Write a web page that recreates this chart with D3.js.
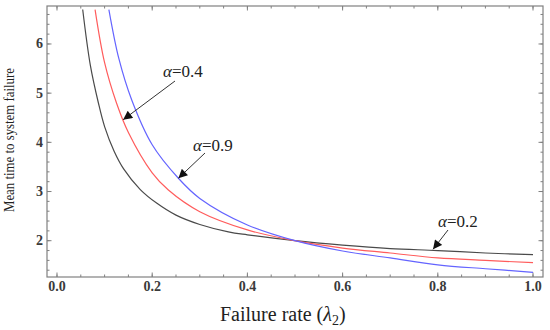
<!DOCTYPE html>
<html lang="en">
  <head>
    <meta charset="utf-8" />
    <script src="https://d3js.org/d3.v7.min.js"></script>
    <style>
      body { margin: 0; background: #fff; }
    </style>
  </head>
  <body>
    <script type="text/javascript">

      // chart size
      var w = 550;
      var h = 330;
      var serif = "'Liberation Serif', 'Times New Roman', 'DejaVu Serif', serif";

      // values (failure rate, mean time)
      var blackX = [0.054, 0.07, 0.087, 0.1, 0.12, 0.14, 0.175, 0.21, 0.25, 0.3, 0.36, 0.4, 0.5, 0.6, 0.7, 0.8, 0.9, 1.0];
      var blackY = [6.70, 5.57, 4.80, 4.32, 3.82, 3.46, 3.04, 2.76, 2.52, 2.33, 2.18, 2.12, 2.00, 1.91, 1.84, 1.80, 1.75, 1.715];

      var redX = [0.080, 0.1, 0.125, 0.15, 0.2, 0.234, 0.3, 0.4, 0.5, 0.6, 0.7, 0.8, 0.9, 1.0];
      var redY = [6.70, 5.62, 4.80, 4.20, 3.38, 3.03, 2.59, 2.22, 2.00, 1.85, 1.75, 1.65, 1.60, 1.553];

      var blueX = [0.109, 0.13, 0.157, 0.2, 0.255, 0.3, 0.4, 0.5, 0.6, 0.7, 0.8, 0.9, 1.0];
      var blueY = [6.70, 5.70, 4.86, 3.95, 3.27, 2.86, 2.32, 2.00, 1.79, 1.65, 1.51, 1.43, 1.358];

      // tick labels
      var xTicks = [0.0, 0.2, 0.4, 0.6, 0.8, 1.0];
      var yTicks = [2, 3, 4, 5, 6];

      // annotations: label, arrow tip (lambda, value)
      var labels = ["0.4", "0.9", "0.2"];
      var tipX = [0.139, 0.255, 0.79];
      var tipY = [4.46, 3.27, 1.825];

      // plot box
      var boxLeft = 47, boxRight = 543, boxTop = 6, boxBottom = 277;

      var svg = d3.select("body")
                  .append("svg")
                  .attr("width", w)
                  .attr("height", h)
                  .attr("font-family", serif);

      var xScale = d3.scaleLinear()
                     .domain([-0.021, 1.021])
                     .range([boxLeft, boxRight]);
      var yScale = d3.scaleLinear()
                     .domain([1.262, 6.772])
                     .range([boxBottom, boxTop]);

      // arrow head
      var defs = svg.append("defs");
      defs.append("marker")
          .attr("id", "head")
          .attr("viewBox", "0 0 10 10")
          .attr("refX", 10)
          .attr("refY", 5)
          .attr("markerWidth", 10)
          .attr("markerHeight", 9)
          .attr("markerUnits", "userSpaceOnUse")
          .attr("orient", "auto")
          .append("path")
          .attr("d", "M0,0 L10,5 L0,10 Z")
          .attr("fill", "#111");

      defs.append("clipPath")
          .attr("id", "box")
          .append("rect")
          .attr("x", boxLeft)
          .attr("y", boxTop)
          .attr("width", boxRight - boxLeft)
          .attr("height", boxBottom - boxTop);

      // frame with inward ticks on all sides
      var frameColor = "#808080";
      function drawTicks(values, size, isX){
        values.forEach(function(v){
          if (isX){
            var x = xScale(v);
            svg.append("line").attr("x1", x).attr("x2", x)
               .attr("y1", boxBottom).attr("y2", boxBottom - size)
               .attr("stroke", frameColor);
            svg.append("line").attr("x1", x).attr("x2", x)
               .attr("y1", boxTop).attr("y2", boxTop + size)
               .attr("stroke", frameColor);
          } else {
            var y = yScale(v);
            svg.append("line").attr("x1", boxLeft).attr("x2", boxLeft + size)
               .attr("y1", y).attr("y2", y)
               .attr("stroke", frameColor);
            svg.append("line").attr("x1", boxRight).attr("x2", boxRight - size)
               .attr("y1", y).attr("y2", y)
               .attr("stroke", frameColor);
          }
        });
      }
      drawTicks(d3.range(0, 1.001, 0.05), 2.5, true);
      drawTicks(xTicks, 4.5, true);
      drawTicks(d3.range(1.4, 6.75, 0.2), 2.5, false);
      drawTicks(yTicks, 4.5, false);

      svg.append("rect")
         .attr("x", boxLeft)
         .attr("y", boxTop)
         .attr("width", boxRight - boxLeft)
         .attr("height", boxBottom - boxTop)
         .attr("fill", "none")
         .attr("stroke", frameColor)
         .attr("stroke-width", 1.2);

      // tick labels
      svg.selectAll(".xlab")
         .data(xTicks)
         .enter()
         .append("text")
         .attr("x", function(d){ return xScale(d); })
         .attr("y", 291)
         .attr("text-anchor", "middle")
         .attr("font-size", 14)
         .attr("font-weight", "bold")
         .attr("fill", "#3a3a3a")
         .text(function(d){ return d.toFixed(1); });

      svg.selectAll(".ylab")
         .data(yTicks)
         .enter()
         .append("text")
         .attr("x", 43)
         .attr("y", function(d){ return yScale(d) + 4.5; })
         .attr("text-anchor", "end")
         .attr("font-size", 14)
         .attr("font-weight", "bold")
         .attr("fill", "#3a3a3a")
         .text(function(d){ return d; });

      // curves
      var line = d3.line()
                   .x(function(d){ return xScale(d[0]); })
                   .y(function(d){ return yScale(d[1]); })
                   .curve(d3.curveCatmullRom.alpha(0.5));

      var series = [
        [blackX, blackY, "#4a4a4a"],
        [redX, redY, "#ff5c5c"],
        [blueX, blueY, "#6464ff"]
      ];
      series.forEach(function(s){
        svg.append("path")
           .datum(d3.zip(s[0], s[1]))
           .attr("clip-path", "url(#box)")
           .attr("d", line)
           .attr("fill", "none")
           .attr("stroke", s[2])
           .attr("stroke-width", 1.2);
      });

      // annotations
      var textPos = [[163, 77], [193, 151], [438, 227]];
      var tailPos = [[175, 81], [205, 153], [448, 230]];
      labels.forEach(function(l, i){
        svg.append("line")
           .attr("x1", tailPos[i][0])
           .attr("y1", tailPos[i][1])
           .attr("x2", xScale(tipX[i]))
           .attr("y2", yScale(tipY[i]))
           .attr("stroke", "#333")
           .attr("stroke-width", 1)
           .attr("marker-end", "url(#head)");
        var t = svg.append("text")
                   .attr("x", textPos[i][0])
                   .attr("y", textPos[i][1])
                   .attr("font-size", 17)
                   .attr("fill", "#222");
        t.append("tspan").attr("font-style", "italic").text("\u03b1");
        t.append("tspan").text("=" + l);
      });

      // y label
      svg.append("text")
         .attr("transform", "rotate(-90)")
         .attr("x", -140)
         .attr("y", 14)
         .attr("text-anchor", "middle")
         .attr("font-size", 14)
         .attr("textLength", 144)
         .attr("lengthAdjust", "spacingAndGlyphs")
         .attr("fill", "#222")
         .text("Mean time to system failure");

      // x label
      var xl = svg.append("text")
                  .attr("x", 220)
                  .attr("y", 321)
                  .attr("font-size", 20)
                  .attr("fill", "#222");
      xl.append("tspan").text("Failure rate (");
      xl.append("tspan").attr("font-style", "italic").text("\u03bb");
      xl.append("tspan").attr("font-size", 14).attr("dy", 4).text("2");
      xl.append("tspan").attr("dy", -4).text(")");

    </script>
  </body>
</html>
